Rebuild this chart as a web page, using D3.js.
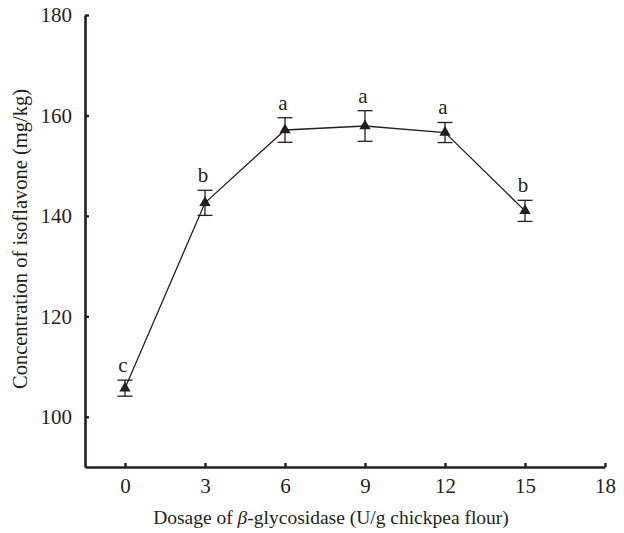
<!DOCTYPE html>
<html>
<head>
<meta charset="utf-8">
<script src="https://cdn.jsdelivr.net/npm/d3@7"></script>
<style>
  html, body { margin: 0; padding: 0; background: #fff; overflow: hidden; }
  svg { display: block; }
  svg text { font-family: 'Liberation Serif', 'DejaVu Serif', serif; fill: #231f20; }
  .axis path, .axis line { stroke: #231f20; }
</style>
</head>
<body>
<svg id="chart"></svg>
<script>
// dosage (U/g chickpea flour) vs isoflavone concentration (mg/kg)
const dosage = [0, 3, 6, 9, 12, 15];
const conc = [105.7, 142.6, 157.1, 157.9, 156.6, 141.0];
const errs = [1.6, 2.5, 2.45, 3.05, 2.0, 2.1];
const letters = ['c', 'b', 'a', 'a', 'a', 'b'];
const xTicks = [0, 3, 6, 9, 12, 15, 18];
const yTicks = [100, 120, 140, 160, 180];

const w = 624;
const h = 533;
const margin = {top: 15, right: 19, bottom: 66, left: 85};

const svg = d3.select('#chart')
    .attr('width', w)
    .attr('height', h);

const innerWidth = w - margin.left - margin.right;
const innerHeight = h - margin.top - margin.bottom;

const g = svg.append('g')
    .attr('transform', `translate(${margin.left}, ${margin.top})`);

const xScale = d3.scaleLinear()
    .domain([-1.5, 18])
    .range([0, innerWidth]);
const yScale = d3.scaleLinear()
    .domain([90, 180])
    .range([innerHeight, 0]);

const xAxis = d3.axisBottom(xScale)
    .tickValues(xTicks)
    .tickSizeInner(-4)
    .tickSizeOuter(0)
    .tickPadding(11);
const yAxis = d3.axisLeft(yScale)
    .tickValues(yTicks)
    .tickSizeInner(-4)
    .tickSizeOuter(0)
    .tickPadding(13);

const xAxisG = g.append('g')
    .attr('class', 'axis')
    .attr('transform', `translate(0,${innerHeight})`)
    .call(xAxis);
const yAxisG = g.append('g')
    .attr('class', 'axis')
    .call(yAxis);

[xAxisG, yAxisG].forEach(a => {
    a.select('.domain').attr('stroke-width', 2.6);
    a.selectAll('.tick line').attr('stroke-width', 2.4);
    a.selectAll('.tick text').style('font-size', '21px');
});

yAxisG.append('text')
    .attr('x', -(innerHeight / 2) + 2)
    .attr('y', -58)
    .attr('transform', 'rotate(-90)')
    .attr('text-anchor', 'middle')
    .style('font-size', '20.5px')
    .text('Concentration of isoflavone (mg/kg)');

svg.append('text')
    .attr('x', 331)
    .attr('y', 524)
    .attr('text-anchor', 'middle')
    .style('font-size', '19.5px')
    .html('Dosage of <tspan font-style="italic">β</tspan>-glycosidase (U/g chickpea flour)');

const data = dosage.map((d, i) => ({x: d, y: conc[i], e: errs[i], l: letters[i]}));

const line = d3.line()
    .x(d => xScale(d.x))
    .y(d => yScale(d.y));

g.append('path')
    .datum(data)
    .attr('d', line)
    .attr('fill', 'none')
    .attr('stroke', '#231f20')
    .attr('stroke-width', 1.3);

const bars = g.selectAll('.err').data(data)
    .enter().append('g')
        .attr('class', 'err')
        .attr('stroke', '#231f20')
        .attr('stroke-width', 1.3);
bars.append('line')
    .attr('x1', d => xScale(d.x)).attr('x2', d => xScale(d.x))
    .attr('y1', d => yScale(d.y + d.e)).attr('y2', d => yScale(d.y - d.e));
bars.append('line')
    .attr('x1', d => xScale(d.x) - 7.5).attr('x2', d => xScale(d.x) + 7.5)
    .attr('y1', d => yScale(d.y + d.e)).attr('y2', d => yScale(d.y + d.e));
bars.append('line')
    .attr('x1', d => xScale(d.x) - 7.5).attr('x2', d => xScale(d.x) + 7.5)
    .attr('y1', d => yScale(d.y - d.e)).attr('y2', d => yScale(d.y - d.e));

g.selectAll('.point').data(data)
    .enter().append('path')
        .attr('class', 'point')
        .attr('d', d3.symbol(d3.symbolTriangle, 55))
        .attr('transform', d => `translate(${xScale(d.x)},${yScale(d.y)})`)
        .attr('fill', '#231f20');

g.selectAll('.sig').data(data)
    .enter().append('text')
        .attr('class', 'sig')
        .attr('x', d => xScale(d.x) - 2)
        .attr('y', d => yScale(d.y + d.e) - 8)
        .attr('text-anchor', 'middle')
        .style('font-size', '21px')
        .text(d => d.l);
</script>
</body>
</html>
